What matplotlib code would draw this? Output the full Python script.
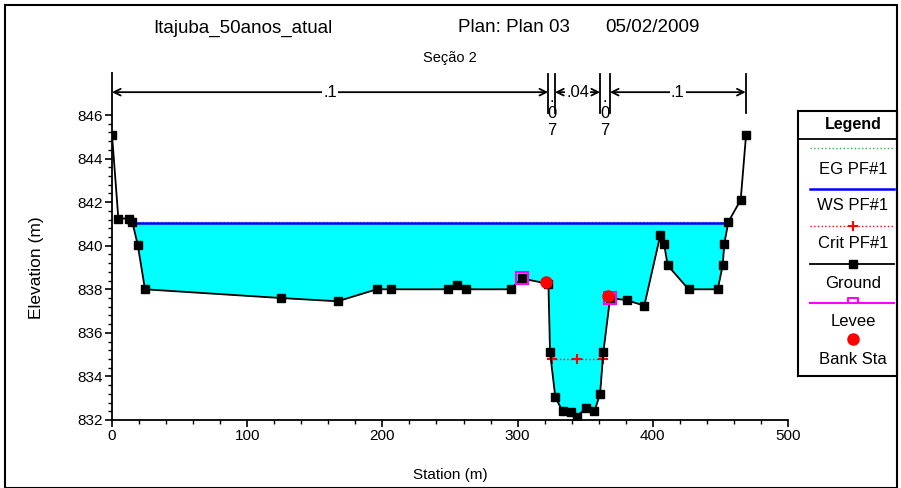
import numpy as np
import matplotlib
matplotlib.use('Agg')
import matplotlib.pyplot as plt
from matplotlib.patches import Rectangle
from matplotlib.ticker import MultipleLocator

plt.rcParams['font.family'] = ['Liberation Sans Narrow', 'Liberation Sans', 'DejaVu Sans']

# ---- data ----
ground_sta = [0, 4.7, 12.6, 15, 19, 24.4, 124.8, 166.9, 195.8, 206.4, 248.5, 255.4,
              261.8, 294.9, 303, 322.8, 324, 327.9, 333.3, 339.5, 343.7, 350.4, 356.8,
              361, 363.4, 368.4, 380.7, 393.7, 405.6, 408.3, 411, 426.5, 448, 451.7,
              452.9, 455.9, 465, 469]
ground_elev = [845.1, 841.25, 841.25, 841.1, 840.05, 838.0, 837.6, 837.45, 838.0, 838.0,
               838.0, 838.2, 838.0, 838.0, 838.5, 838.25, 835.1, 833.05, 832.4, 832.35,
               832.15, 832.55, 832.4, 833.2, 835.1, 837.6, 837.5, 837.25, 840.5, 840.1,
               839.1, 838.0, 838.0, 839.1, 840.1, 841.1, 842.1, 845.1]

ws_elev = 841.03
eg_elev = 841.08
ws_sta = [14.0, 456.0]

crit_sta = [325.2, 343.7, 363.4]
crit_elev = [834.8, 834.8, 834.8]

levee_sta = [303, 368.4]
levee_elev = [838.5, 837.6]

bank_sta = [321.2, 367.2]
bank_elev = [838.33, 837.68]

n_bounds = [0, 322.6, 327.7, 361, 368.3, 468.7]
n_values = ['.1', '.07', '.04', '.07', '.1']

title_parts = ['Itajuba_50anos_atual', 'Plan: Plan 03', '05/02/2009']
subtitle = 'Seção 2'

legend_labels = ['EG PF#1', 'WS PF#1', 'Crit PF#1', 'Ground', 'Levee', 'Bank Sta']

# ---- figure ----
W, H = 901, 488
fig = plt.figure(figsize=(W / 100, H / 100), dpi=100)

def px(x, y):
    return x / W, 1 - y / H

# outer frame
fig.patches.append(Rectangle((5 / W, 0), 892 / W, 1 - 5 / H, transform=fig.transFigure,
                             fill=False, edgecolor='black', lw=1.5))

ax = fig.add_axes([112 / W, 68 / H, 676 / W, 347 / H])
ax.set_xlim(0, 500)
ax.set_ylim(832, 847.93)

gs = np.array(ground_sta)
ge = np.array(ground_elev)

# water fill
ax.fill_between(gs, ge, ws_elev, where=ge < ws_elev, interpolate=True,
                color='#00ffff', lw=0, zorder=1)
ax.plot(ws_sta, [eg_elev, eg_elev], color='#3cb043', ls=':', lw=1, zorder=2)
ax.plot(ws_sta, [ws_elev, ws_elev], color='#0000ff', lw=1.8, zorder=3)
ax.plot(crit_sta, crit_elev, color='red', ls=':', lw=1, marker='+', ms=7, mew=1.5, zorder=4)
ax.plot(gs, ge, color='black', lw=1.3, marker='s', ms=6, zorder=5)
ax.plot(levee_sta, levee_elev, ls='none', marker='s', ms=9, mfc='none', mec='#ff00ff',
        mew=1.5, zorder=6)
ax.plot(bank_sta, bank_elev, ls='none', marker='o', ms=8, color='red', zorder=7)

# axes style
for s in ['top', 'right']:
    ax.spines[s].set_visible(False)
ax.spines['left'].set_linewidth(1.3)
ax.spines['bottom'].set_linewidth(1.3)
ax.set_xticks(np.arange(0, 501, 100))
ax.xaxis.set_minor_locator(MultipleLocator(20))
ax.set_yticks(np.arange(832, 847, 2))
ax.set_yticks(np.arange(832, 846.01, 0.4), minor=True)
ax.tick_params(which='major', direction='out', length=5, width=1.2, labelsize=11, pad=1.5)
ax.tick_params(which='minor', direction='out', length=3, width=1)
ax.set_xlabel('Station (m)', fontsize=11, labelpad=18)
ax.set_ylabel('Elevation (m)', fontsize=12.5)
ax.yaxis.set_label_coords(-0.1, 0.44)

# n-value bars
y_top, y_bot, y_arr = 847.9, 846.1, 847.05
for b in n_bounds[1:]:
    ax.plot([b, b], [y_bot, y_top], color='black', lw=1.3, clip_on=False)
for i, nv in enumerate(n_values):
    a, b = n_bounds[i], n_bounds[i + 1]
    mid = (a + b) / 2
    if b - a > 20:
        ax.annotate('', xy=(a, y_arr), xytext=(b, y_arr), annotation_clip=False,
                    arrowprops=dict(arrowstyle='<->', lw=1.3, color='black',
                                    shrinkA=0, shrinkB=0, mutation_scale=12))
        ax.text(mid, y_arr, nv, ha='center', va='center', fontsize=12,
                bbox=dict(fc='white', ec='none', pad=1), clip_on=False)
    else:
        ax.text(mid, 846.05, '.\n0\n7', ha='center', va='center', fontsize=12,
                linespacing=1.1, clip_on=False)

# titles
tx = [153, 458, 605]
for t, x in zip(title_parts, tx):
    fig.text(*px(x, 28), t, fontsize=13.5, ha='left', va='center')
fig.text(*px(450, 58), subtitle, fontsize=10.5, ha='center', va='center')

# legend
lax = fig.add_axes([798 / W, 1 - 376 / H, 99 / W, 265 / H])
lax.set_xlim(798, 897)
lax.set_ylim(376, 111)
lax.set_xticks([])
lax.set_yticks([])
for s in lax.spines.values():
    s.set_linewidth(1.5)
lax.axhline(139, color='black', lw=1.3)
lax.text(853, 125, 'Legend', ha='center', va='center', fontsize=11.5, fontweight='bold')
xl = [810, 894]
cx = 853
lax.plot(xl, [148, 148], color='#3cb043', ls=':', lw=1)
lax.plot(xl, [189, 189], color='#0000ff', lw=1.8)
lax.plot(xl, [226, 226], color='red', ls=':', lw=1)
lax.plot([cx], [226], marker='+', color='red', ms=7, mew=1.5)
lax.plot(xl, [264, 264], color='black', lw=1.3)
lax.plot([cx], [264], marker='s', color='black', ms=6)
lax.plot(xl, [303, 303], color='#ff00ff', lw=1.5)
lax.plot([cx - 5, cx - 5, cx + 5, cx + 5], [303, 297.5, 297.5, 303], color='#ff00ff', lw=1.5)
lax.plot([cx], [339], marker='o', color='red', ms=8)
for lab, yy in zip(legend_labels, [170, 206, 244, 283, 321, 359]):
    lax.text(cx, yy, lab, ha='center', va='center', fontsize=12)

fig.savefig('out.png', dpi=100)
